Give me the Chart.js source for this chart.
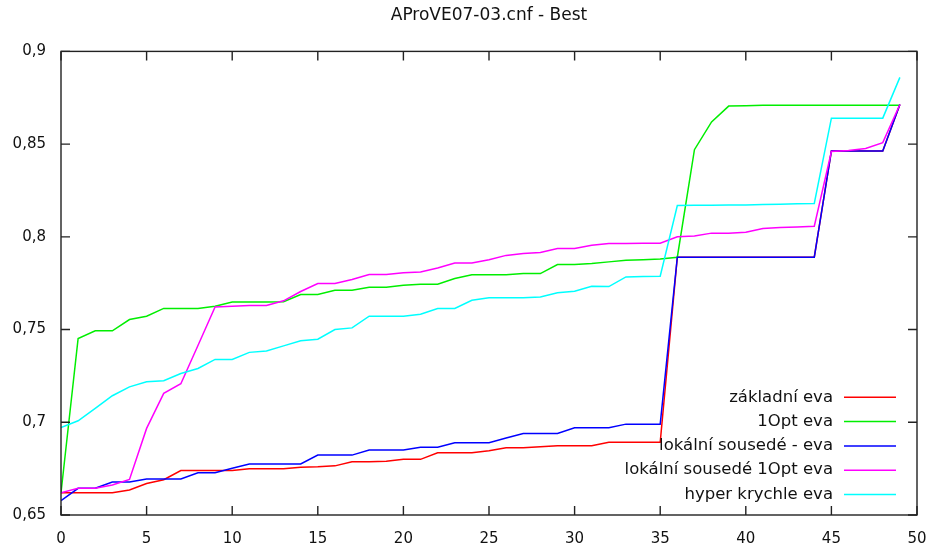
<!DOCTYPE html>
<html>
<head>
<meta charset="utf-8">
<title>AProVE07-03.cnf - Best</title>
<script src="https://cdn.jsdelivr.net/npm/chart.js@4.4.1/dist/chart.umd.min.js"></script>
<style>
    html, body { margin: 0; padding: 0; background: #fff; }
    canvas { display: block; }
</style>
</head>
<body>
<canvas id="bestChart" width="931" height="550"></canvas>
<script>
// Best fitness per generation, one array per algorithm variant
const SERIES_LABELS = [
    'základní eva',
    '1Opt eva',
    'lokální sousedé - eva',
    'lokální sousedé 1Opt eva',
    'hyper krychle eva'
];

const SERIES_COLORS = ['#ff0000', '#00ee00', '#0000ff', '#ff00ff', '#00ffff'];

const zakladniEva = [
    0.662, 0.662, 0.662, 0.662, 0.6635, 0.667, 0.669, 0.674, 0.674, 0.674,
    0.674, 0.675, 0.675, 0.675, 0.6758, 0.676, 0.6765, 0.6787, 0.6787, 0.679,
    0.680, 0.680, 0.6836, 0.6836, 0.6836, 0.6847, 0.6863, 0.6863, 0.6868, 0.6873,
    0.6873, 0.6873, 0.6892, 0.6892, 0.6892, 0.6892, 0.789, 0.789, 0.789, 0.789,
    0.789, 0.789, 0.789, 0.789, 0.789, 0.8463, 0.8463, 0.8463, 0.8463, 0.8714
];

const opt1Eva = [
    0.662, 0.7452, 0.7493, 0.7493, 0.7554, 0.7572, 0.7614, 0.7614, 0.7614, 0.7626,
    0.7648, 0.7648, 0.7648, 0.765, 0.7689, 0.7689, 0.7712, 0.7712, 0.7728, 0.7728,
    0.7739, 0.7745, 0.7745, 0.7775, 0.7795, 0.7795, 0.7795, 0.7802, 0.7802, 0.7851,
    0.7851, 0.7856, 0.7865, 0.7874, 0.7877, 0.788, 0.789, 0.847, 0.862, 0.8705,
    0.8707, 0.871, 0.871, 0.871, 0.871, 0.871, 0.871, 0.871, 0.871, 0.871
];

const lokalniSousedeEva = [
    0.6577, 0.6644, 0.6644, 0.6678, 0.6678, 0.6694, 0.6694, 0.6694, 0.6728, 0.6728,
    0.6752, 0.6775, 0.6775, 0.6775, 0.6775, 0.6823, 0.6823, 0.6823, 0.685, 0.685,
    0.685, 0.6865, 0.6865, 0.689, 0.689, 0.689, 0.6915, 0.694, 0.694, 0.694,
    0.697, 0.697, 0.697, 0.699, 0.699, 0.699, 0.789, 0.789, 0.789, 0.789,
    0.789, 0.789, 0.789, 0.789, 0.789, 0.8463, 0.8463, 0.8463, 0.8463, 0.8714
];

const lokalniSousede1OptEva = [
    0.662, 0.6644, 0.6644, 0.6662, 0.6692, 0.6967, 0.7156, 0.7208, 0.7414, 0.7622,
    0.7626, 0.763, 0.763, 0.7655, 0.7705, 0.7748, 0.7748, 0.777, 0.7797, 0.7797,
    0.7806, 0.7811, 0.7832, 0.7859, 0.7859, 0.7877, 0.790, 0.791, 0.7915, 0.7937,
    0.7937, 0.7955, 0.7964, 0.7964, 0.7965, 0.7966, 0.800, 0.8005, 0.802, 0.802,
    0.8025, 0.8045, 0.805, 0.8053, 0.8057, 0.846, 0.8465, 0.8476, 0.8508, 0.8714
];

const hyperKrychleEva = [
    0.6972, 0.7008, 0.7075, 0.7143, 0.7191, 0.7218, 0.7224, 0.7263, 0.729, 0.7339,
    0.7339, 0.7377, 0.7385, 0.7412, 0.744, 0.7448, 0.750, 0.7509, 0.7572, 0.7572,
    0.7572, 0.7583, 0.7614, 0.7614, 0.7658, 0.7671, 0.7671, 0.7671, 0.7676, 0.7698,
    0.7707, 0.7734, 0.7732, 0.7784, 0.7786, 0.7788, 0.8169, 0.817, 0.8171, 0.8172,
    0.8172, 0.8175, 0.8176, 0.8178, 0.818, 0.864, 0.864, 0.864, 0.864, 0.886
];

const SERIES_VALUES = [zakladniEva, opt1Eva, lokalniSousedeEva, lokalniSousede1OptEva, hyperKrychleEva];

const FONT_FAMILY = '"DejaVu Sans", Verdana, sans-serif';

// gnuplot style: y tick labels use a decimal comma
function formatTick(value) {
    return String(Number(value.toFixed(2))).replace('.', ',');
}

/**
 * Draws the closed frame with inward ticks and a gnuplot-like key
 * (text right aligned, line sample on the right, no box)
 */
const gnuplotFrame = {
    id: 'gnuplotFrame',
    afterDatasetsDraw(chart) {
        const ctx = chart.ctx;
        const area = chart.chartArea;
        const xScale = chart.scales.x;
        const yScale = chart.scales.y;
        const tick = 9;

        ctx.save();
        ctx.strokeStyle = '#222';
        ctx.lineWidth = 1.4;
        ctx.strokeRect(area.left, area.top, area.right - area.left, area.bottom - area.top);

        ctx.beginPath();
        xScale.ticks.forEach(t => {
            const px = xScale.getPixelForValue(t.value);
            ctx.moveTo(px, area.bottom);
            ctx.lineTo(px, area.bottom - tick);
            ctx.moveTo(px, area.top);
            ctx.lineTo(px, area.top + tick);
        });
        yScale.ticks.forEach(t => {
            const py = yScale.getPixelForValue(t.value);
            ctx.moveTo(area.left, py);
            ctx.lineTo(area.left + tick, py);
            ctx.moveTo(area.right, py);
            ctx.lineTo(area.right - tick, py);
        });
        ctx.stroke();

        // key
        ctx.font = '16.5px ' + FONT_FAMILY;
        ctx.textAlign = 'right';
        ctx.textBaseline = 'middle';
        const lineEnd = area.right - 21;
        const lineStart = lineEnd - 52;
        const textRight = lineStart - 11;
        const firstRow = area.bottom - 117.7;
        const rowStep = 24.3;
        chart.data.datasets.forEach((ds, i) => {
            const yRow = firstRow + i * rowStep;
            ctx.fillStyle = '#111';
            ctx.fillText(ds.label, textRight, yRow);
            ctx.strokeStyle = ds.borderColor;
            ctx.lineWidth = 1.5;
            ctx.beginPath();
            ctx.moveTo(lineStart, yRow);
            ctx.lineTo(lineEnd, yRow);
            ctx.stroke();
        });
        ctx.restore();
    }
};

function createBestChart(elementId) {
    const ctx = document.getElementById(elementId).getContext('2d');

    return new Chart(ctx, {
        type: 'line',
        data: {
            datasets: SERIES_VALUES.map((values, i) => ({
                label: SERIES_LABELS[i],
                data: values.map((v, gen) => ({ x: gen, y: v })),
                borderColor: SERIES_COLORS[i],
                backgroundColor: SERIES_COLORS[i],
                borderWidth: 1.5,
                pointRadius: 0,
                tension: 0,
                fill: false,
                order: SERIES_VALUES.length - 1 - i
            }))
        },
        options: {
            responsive: false,
            animation: false,
            devicePixelRatio: 1,
            layout: {
                padding: { left: 0, right: 14, top: 0, bottom: 0 }
            },
            plugins: {
                legend: { display: false },
                tooltip: { enabled: false },
                title: {
                    display: true,
                    // not full width, so the title centres over the plot area
                    fullSize: false,
                    text: 'AProVE07-03.cnf - Best',
                    color: '#111',
                    font: { family: FONT_FAMILY, size: 17, weight: 'normal' },
                    padding: { top: 5, bottom: 26 }
                }
            },
            scales: {
                x: {
                    type: 'linear',
                    min: 0,
                    max: 50,
                    ticks: {
                        stepSize: 5,
                        color: '#111',
                        padding: 7,
                        font: { family: FONT_FAMILY, size: 15 }
                    },
                    grid: { display: false },
                    border: { display: false },
                    afterFit(scale) {
                        scale.height = 35;
                        // keep "50" from pushing the plot area in from the right
                        scale.paddingRight = 0;
                    }
                },
                y: {
                    min: 0.65,
                    max: 0.9,
                    ticks: {
                        stepSize: 0.05,
                        color: '#111',
                        padding: 7,
                        font: { family: FONT_FAMILY, size: 15 },
                        callback: value => formatTick(value)
                    },
                    grid: { display: false },
                    border: { display: false },
                    afterFit(scale) { scale.width = 61; }
                }
            }
        },
        plugins: [gnuplotFrame]
    });
}

createBestChart('bestChart');
</script>
</body>
</html>
